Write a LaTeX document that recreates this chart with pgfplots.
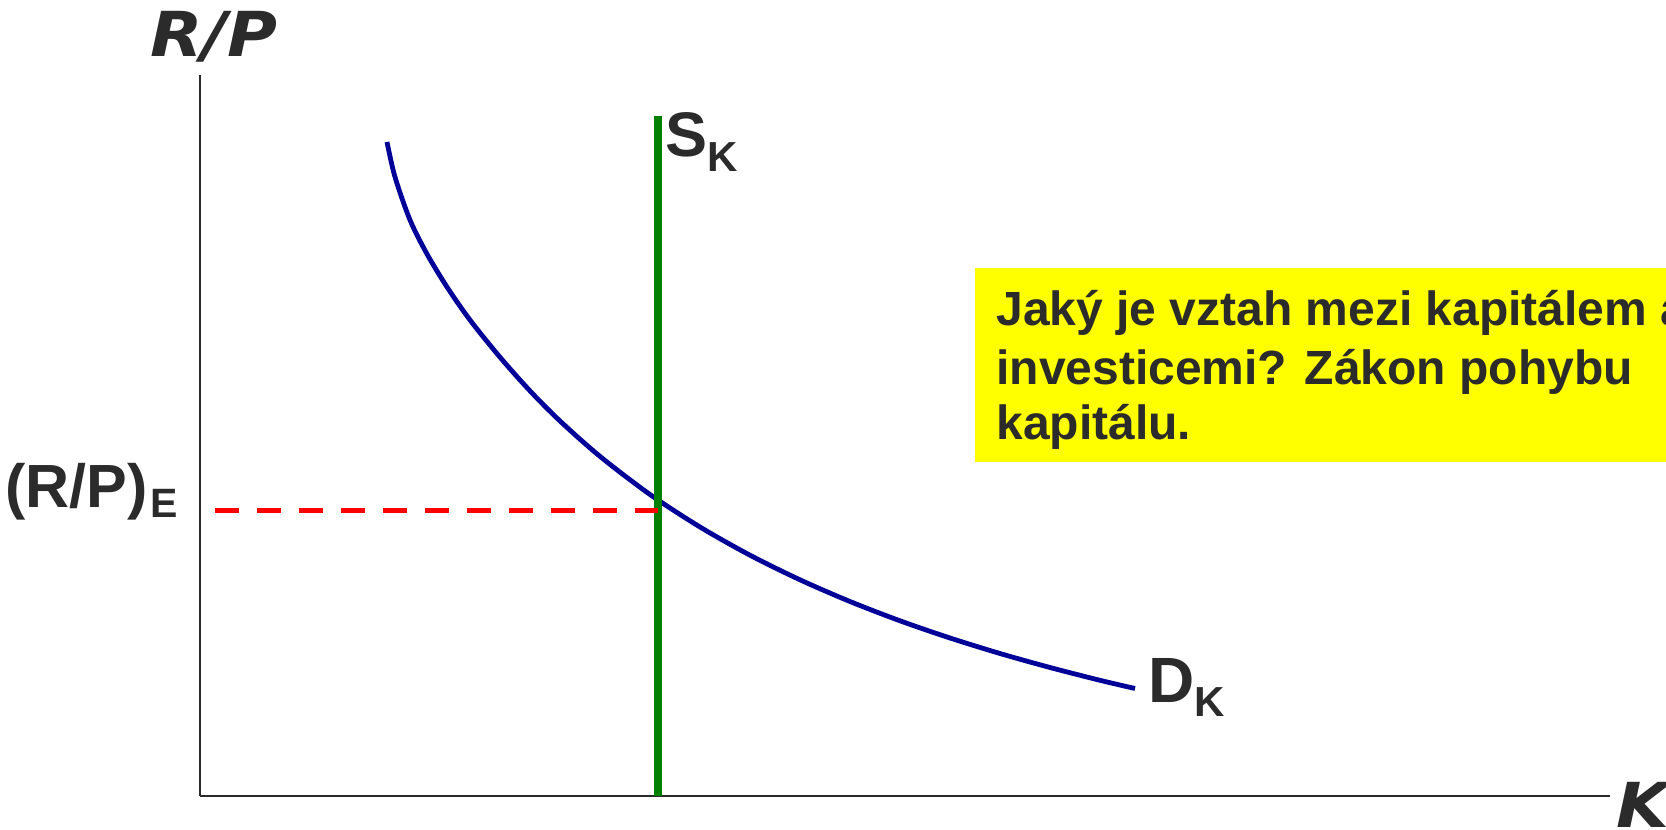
\documentclass[border=0pt]{standalone}
\usepackage{pgfplots}
\pgfplotsset{compat=1.18}
\usepackage{fontspec}
\setmainfont{Liberation Sans}
\newfontfamily\verafont{DejaVu Sans}
\definecolor{ink}{RGB}{43,43,43}
\definecolor{demand}{RGB}{0,0,153}
\definecolor{supply}{RGB}{0,128,0}
\definecolor{note}{RGB}{255,255,0}

\begin{document}
\begin{tikzpicture}
% visible page: 1 axis unit = 0.5pt
\useasboundingbox (-100pt,-17pt) rectangle (733pt,398pt);
\clip (-100pt,-17pt) rectangle (733pt,398pt);
\begin{axis}[
  at={(0pt,0pt)}, anchor=south west,
  scale only axis, width=705pt, height=360.5pt,
  xmin=0, xmax=1410, ymin=0, ymax=721,
  axis lines=left,
  axis line style={ink, line width=1.3pt, -},
  xtick=\empty, ytick=\empty,
  clip=false,
]
% capital demand curve D_K
\addplot[demand, line width=2.4pt, smooth] coordinates {
  (187,654) (195,619) (210,576) (227,542) (247,509) (270,476)
  (300,438.8) (330,405.1) (360,375.0) (400,339.6) (450,301.5)
  (500,269.0) (550,240.8) (600,216.2) (650,194.5) (700,175.2)
  (750,158.0) (800,142.5) (850,128.5) (900,115.7) (935,107.5)
};
% fixed capital supply S_K
\addplot[supply, line width=3.75pt] coordinates {(458,0) (458,680)};
% equilibrium rental price
\addplot[red, line width=2.5pt, dash pattern=on 12pt off 9pt] coordinates {(15,285) (458,285)};

% axis titles
\node[anchor=base west, inner sep=0, ink, font=\verafont\bfseries\itshape\fontsize{31}{31}\selectfont]
  at (axis cs:-50,739) {\scalebox{1.1}[1]{R/P}};
\node[anchor=base west, inner sep=0, ink, font=\verafont\bfseries\itshape\fontsize{31}{31}\selectfont]
  at (axis cs:1416,-32) {\scalebox{1.1}[1]{K}};

% curve labels
\node[anchor=base west, inner sep=0, ink, font=\bfseries\fontsize{31.5}{31.5}\selectfont]
  at (axis cs:465,639) {S\raisebox{-7.5pt}{\fontsize{21}{21}\selectfont K}};
\node[anchor=base west, inner sep=0, ink, font=\bfseries\fontsize{32}{32}\selectfont]
  at (axis cs:948,93) {D\raisebox{-7pt}{\fontsize{21}{21}\selectfont K}};
\node[anchor=base west, inner sep=0, ink, font=\bfseries\fontsize{30.5}{30.5}\selectfont]
  at (axis cs:-195,288) {(R/P)\hspace{1.5pt}\raisebox{-5pt}{\fontsize{20.5}{20.5}\selectfont E}};

% question box
\fill[note] (axis cs:775,334) rectangle (axis cs:1500,528);
\node[anchor=base west, inner sep=0, ink, font=\bfseries\fontsize{24}{24}\selectfont]
  at (axis cs:796,470) {Jaký je vztah mezi kapitálem a};
\node[anchor=base west, inner sep=0, ink, font=\bfseries\fontsize{24}{24}\selectfont]
  at (axis cs:796,411) {investicemi? Zákon pohybu};
\node[anchor=base west, inner sep=0, ink, font=\bfseries\fontsize{24}{24}\selectfont]
  at (axis cs:796,356) {kapitálu.};
\end{axis}
\end{tikzpicture}
\end{document}
